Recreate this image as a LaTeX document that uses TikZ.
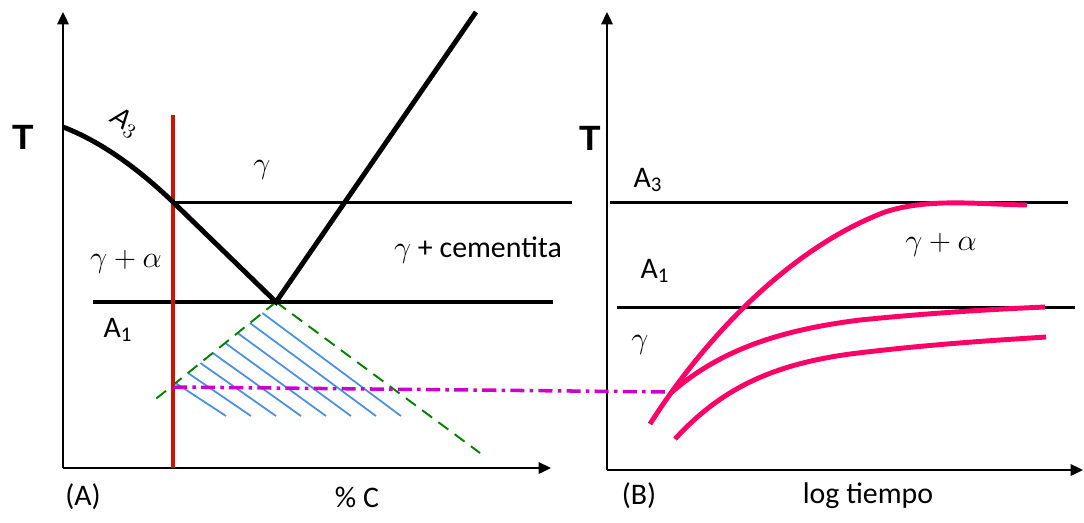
\documentclass[tikz,border=0pt]{standalone}
\usepackage{fontspec}
\setmainfont{Carlito}
\newfontfamily\axisfont{Liberation Sans}
\usepackage{xcolor}
\usetikzlibrary{arrows.meta,positioning,calc}

\definecolor{alloyred}{RGB}{204,20,0}
\definecolor{curvepink}{RGB}{255,0,102}
\definecolor{guidegreen}{RGB}{0,128,0}
\definecolor{hatchblue}{RGB}{74,144,226}
\definecolor{linkmagenta}{RGB}{204,0,204}

\begin{document}
\begin{tikzpicture}[
  x=0.02cm, y=-0.02cm,
  >={Triangle[length=7pt,width=6.5pt]},
  font=\fontsize{17}{20}\selectfont,
  axis/.style={->, line width=1.1pt},
  phase/.style={line width=2.8pt},
  tie/.style={line width=1.7pt},
  alloy/.style={line width=2.8pt, alloyred},
  curve/.style={line width=2.8pt, curvepink},
  guide/.style={line width=1.1pt, guidegreen, dash pattern=on 7pt off 4.5pt},
  hatch/.style={line width=1pt, hatchblue},
  link/.style={line width=2pt, linkmagenta, dash pattern=on 8pt off 3pt on 2pt off 3pt},
  tlbl/.style={font=\axisfont\bfseries\fontsize{20}{24}\selectfont}
]
  \useasboundingbox (0,0) rectangle (1084,522);

  % (A) diagram
  \coordinate (oA) at (63,468);
  \coordinate (yA) at (63,12);
  \coordinate (xA) at (551,468);
  \coordinate (a3start) at (63,127);
  \coordinate (a3red) at (173,202);
  \coordinate (eut) at (276,302);
  \coordinate (acm) at (476,12);
  \coordinate (redtop) at (173,115);
  \coordinate (redbot) at (173,468);
  \coordinate (tieR) at (572,202);
  \coordinate (a1L) at (93,302);
  \coordinate (a1R) at (553,302);
  \coordinate (gL) at (152,402);
  \coordinate (gR) at (480,453);
  \coordinate (cut) at (173,387);

  % (B) diagram
  \coordinate (oB) at (607,470);
  \coordinate (yB) at (607,12);
  \coordinate (xB) at (1083,470);
  \coordinate (b3L) at (610,202);
  \coordinate (b3R) at (1068,202);
  \coordinate (b1L) at (617,307);
  \coordinate (b1R) at (1075,307);
  \coordinate (knee) at (672,392);

  \draw[axis] (oA) -- (yA);
  \draw[axis] (oA) -- (xA);
  \draw[axis] (oB) -- (yB);
  \draw[axis] (oB) -- (xB);

  % hatched region
  \foreach \i in {0,...,7}
    \draw[hatch] ($(eut)!{0.81-0.1*\i}!(gL)$) -- (226+25*\i,416);
  \draw[guide] (eut) -- (gL);
  \draw[guide] (eut) -- (gR);

  \draw[tie] (a3red) -- (tieR);
  \draw[phase] (a1L) -- (a1R);
  \draw[alloy] (redtop) -- (redbot);
  \draw[phase] (a3start) .. controls (110,145) and (150,180) .. (a3red) -- (eut) -- (acm);

  \draw[link] (cut) -- (knee);

  \draw[tie] (b3L) -- (b3R);
  \draw[tie] (b1L) -- (b1R);
  \draw[curve] (650,424) .. controls (700,345) and (785,250) .. (885,212)
    .. controls (928,198) and (975,204) .. (1027,205);
  \draw[curve] (knee) .. controls (720,350) and (780,330) .. (860,320)
    .. controls (940,312) and (1000,309) .. (1045,307);
  \draw[curve] (675,439) .. controls (720,390) and (770,365) .. (850,354)
    .. controls (930,344) and (1000,340) .. (1046,337);

  % labels
  \node[tlbl] (Tleft) at (23,137) {T};
  \node[rotate=-32, inner sep=0pt] (a3lbl) at (125,123) {\textit{A$_3$}};
  \node (gam) at (262,170) {$\gamma$};
  \node (gamalpha) at (126,262) {$\gamma+\alpha$};
  \node (a1lbl) at (118,330) {A\textsubscript{1}};
  \node (gamcem) at (478,250) {$\gamma$ + cementita};
  \node (panelA) at (83,497) {(A)};
  \node (xlblA) at (357,497) {\% C};

  \node[tlbl] (Tright) at (590,138) {T};
  \node (b3lbl) at (648,180) {A\textsubscript{3}};
  \node (b1lbl) at (655,271) {A\textsubscript{1}};
  \node (gamB) at (640,345) {$\gamma$};
  \node (gamalphaB) at (941,245) {$\gamma+\alpha$};
  \node (panelB) at (639,496) {(B)};
  \node (xlblB) at (868,496) {log tiempo};
\end{tikzpicture}
\end{document}
